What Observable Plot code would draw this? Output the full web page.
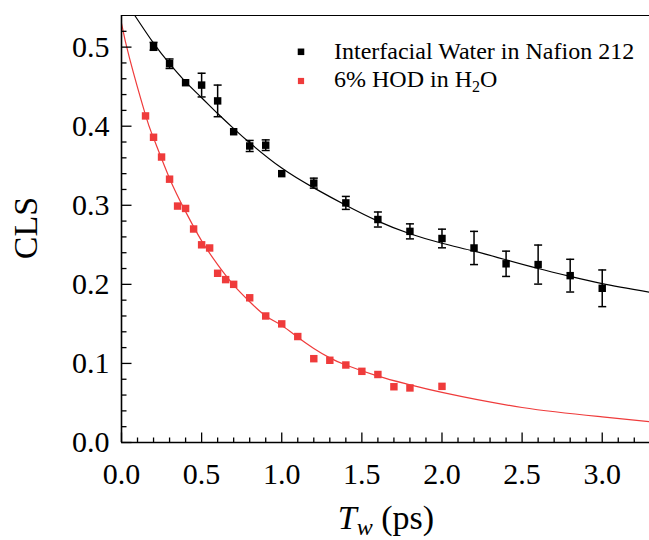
<!DOCTYPE html>
<html><head><meta charset="utf-8">
<script src="https://cdn.jsdelivr.net/npm/d3@7"></script>
<script src="https://cdn.jsdelivr.net/npm/@observablehq/plot@0.6"></script>
<style>
body{margin:0;background:#fff;} svg{display:block}
</style>
</head><body><div id="chart"></div>
<script>
// ---- data ----
const nafionTw  = [0.2,0.3,0.4,0.5,0.6,0.7,0.8,0.9,1.0,1.2,1.4,1.6,1.8,2.0,2.2,2.4,2.6,2.8,3.0];
const nafionCLS = [0.501,0.479,0.455,0.452,0.432,0.393,0.375,0.376,0.340,0.328,0.303,0.282,0.267,0.258,0.246,0.226,0.225,0.211,0.195];
const nafionErr = [0.005,0.006,0,0.015,0.020,0,0.007,0.0067,0,0.0063,0.0082,0.0095,0.0095,0.0118,0.021,0.016,0.0247,0.0207,0.0232];

const hodTw  = [0.15,0.2,0.25,0.3,0.35,0.4,0.45,0.5,0.55,0.6,0.65,0.7,0.8,0.9,1.0,1.1,1.2,1.3,1.4,1.5,1.6,1.7,1.8,2.0];
const hodCLS = [0.413,0.386,0.361,0.333,0.299,0.296,0.270,0.250,0.246,0.214,0.206,0.200,0.183,0.160,0.150,0.134,0.106,0.104,0.098,0.090,0.086,0.0705,0.069,0.071];

const nafionFitTw  = [0.083,0.2,0.3,0.4,0.5,0.6,0.7,0.8,1.0,1.2,1.4,1.6,1.8,2.0,2.2,2.4,2.6,2.8,3.0,3.3];
const nafionFitCLS = [0.540,0.505,0.479,0.456,0.436,0.416,0.397,0.379,0.347,0.322,0.300,0.280,0.264,0.252,0.242,0.231,0.220,0.210,0.201,0.190];

const hodFitTw  = [0.0,0.05,0.15,0.2,0.3,0.4,0.5,0.6,0.7,0.8,0.9,1.0,1.1,1.2,1.3,1.4,1.6,1.8,2.0,2.5,3.0,3.3];
const hodFitCLS = [0.530,0.486,0.414,0.385,0.334,0.292,0.255,0.225,0.199,0.178,0.160,0.148,0.133,0.119,0.107,0.098,0.084,0.073,0.0633,0.0443,0.0325,0.0262];

const xMajor = [0.0,0.5,1.0,1.5,2.0,2.5,3.0];
const yMajor = [0.0,0.1,0.2,0.3,0.4,0.5];
const xMinor = d3.range(0, 33).map(i => i / 10).filter(v => Math.abs(v * 2 - Math.round(v * 2)) > 1e-6);
const yMinor = d3.range(0, 27).map(i => i / 50).filter(v => Math.abs(v * 10 - Math.round(v * 10)) > 1e-6);

const seriesNames = ["Interfacial Water in Nafion 212", "6% HOD in H", "2", "O"];
const xLabel = ["T", "w", " (ps)"];
const yLabel = "CLS";

// ---- build tables ----
const nafion = nafionTw.map((t, i) => ({t, v: nafionCLS[i], e: nafionErr[i]}));
const nafionBars = nafion.filter(d => d.e > 0);
const hod = hodTw.map((t, i) => ({t, v: hodCLS[i]}));
const nafionFit = nafionFitTw.map((t, i) => ({t, v: nafionFitCLS[i]}));
const hodFit = hodFitTw.map((t, i) => ({t, v: hodFitCLS[i]}));

const RED = "#ef3b3b";
const FONT = "'Liberation Serif', 'Times New Roman', serif";

const tickUp = {draw(ctx, size) { const l = Math.sqrt(size / Math.PI); ctx.moveTo(0, 0); ctx.lineTo(0, -l); }};
const tickRight = {draw(ctx, size) { const l = Math.sqrt(size / Math.PI); ctx.moveTo(0, 0); ctx.lineTo(l, 0); }};
const cap = {draw(ctx, size) { const l = Math.sqrt(size / Math.PI); ctx.moveTo(-l, 0); ctx.lineTo(l, 0); }};

const yMax = 0.54;

const chart = Plot.plot({
  width: 649,
  height: 540,
  marginLeft: 121,
  marginRight: 0,
  marginTop: 15,
  marginBottom: 98,
  style: {background: "white", color: "black", overflow: "visible"},
  x: {domain: [0, 3.295]},
  y: {domain: [0, yMax]},
  marks: [
    // fit curves
    Plot.line(hodFit, {x: "t", y: "v", curve: "natural", stroke: RED, strokeWidth: 1.2, clip: true}),
    Plot.line(nafionFit, {x: "t", y: "v", curve: "natural", stroke: "black", strokeWidth: 1.2, clip: true}),
    // error bars
    Plot.ruleX(nafionBars, {x: "t", y1: d => d.v - d.e, y2: d => d.v + d.e, stroke: "black", strokeWidth: 1.5}),
    Plot.dot(nafionBars, {x: "t", y: d => d.v + d.e, symbol: cap, r: 4, fill: "none", stroke: "black", strokeWidth: 1.5}),
    Plot.dot(nafionBars, {x: "t", y: d => d.v - d.e, symbol: cap, r: 4, fill: "none", stroke: "black", strokeWidth: 1.5}),
    // points
    Plot.dot(hod, {x: "t", y: "v", symbol: "square", r: 4.2, fill: RED}),
    Plot.dot(nafion, {x: "t", y: "v", symbol: "square", r: 4.2, fill: "black"}),
    // frame lines
    Plot.ruleY([0], {stroke: "black", strokeWidth: 1.6}),
    Plot.ruleX([0], {stroke: "black", strokeWidth: 1.6}),
    Plot.ruleY([yMax], {stroke: "black", strokeWidth: 1.2}),
    // inward ticks
    Plot.dot(xMajor, {x: d => d, frameAnchor: "bottom", symbol: tickUp, r: 10, fill: "none", stroke: "black", strokeWidth: 1.3}),
    Plot.dot(xMinor, {x: d => d, frameAnchor: "bottom", symbol: tickUp, r: 5, fill: "none", stroke: "black", strokeWidth: 1.3}),
    Plot.dot(yMajor, {y: d => d, frameAnchor: "left", symbol: tickRight, r: 10, fill: "none", stroke: "black", strokeWidth: 1.3}),
    Plot.dot(yMinor, {y: d => d, frameAnchor: "left", symbol: tickRight, r: 5, fill: "none", stroke: "black", strokeWidth: 1.3}),
    // tick labels
    Plot.axisX({ticks: xMajor, tickSize: 0, tickPadding: 20, tickFormat: d3.format(".1f"), label: null, fontSize: 30}),
    Plot.axisY({ticks: yMajor, tickSize: 0, tickPadding: 12, tickFormat: d3.format(".1f"), label: null, fontSize: 30}),
    // legend markers
    Plot.dot([seriesNames[0]], {frameAnchor: "top-left", dx: 179.5, dy: 36.3, symbol: "square", r: 3.7, fill: "black"}),
    Plot.dot([seriesNames[1]], {frameAnchor: "top-left", dx: 179.5, dy: 65.5, symbol: "square", r: 3.5, fill: RED})
  ]
});

const svg = d3.select(chart);
svg.attr("font-family", FONT).style("font-family", FONT);
svg.selectAll("g").style("font-family", FONT).style("font-variant", "normal");
svg.selectAll("text").style("font-family", FONT).style("font-variant", "normal").style("font-size", "30px");

// legend text
svg.append("text").attr("x", 334).attr("y", 59.3).attr("text-anchor", "start")
  .style("font-family", FONT).style("font-size", "24px").attr("fill", "black")
  .text(seriesNames[0]);
const t2 = svg.append("text").attr("x", 334).attr("y", 86.7).attr("text-anchor", "start")
  .style("font-family", FONT).style("font-size", "24px").attr("fill", "black");
t2.append("tspan").text(seriesNames[1]);
t2.append("tspan").style("font-size", "16px").attr("dy", 5).text(seriesNames[2]);
t2.append("tspan").attr("dy", -5).text(seriesNames[3]);

// x label
const xl = svg.append("text").attr("x", 386).attr("y", 529).attr("text-anchor", "middle")
  .style("font-family", FONT).style("font-size", "34px").attr("fill", "black");
xl.append("tspan").style("font-style", "italic").text(xLabel[0]);
xl.append("tspan").style("font-style", "italic").style("font-size", "24px").attr("dy", 6).text(xLabel[1]);
xl.append("tspan").attr("dy", -6).text(xLabel[2]);

// y label
svg.append("text").attr("transform", "translate(36.5,228) rotate(-90)").attr("text-anchor", "middle")
  .style("font-family", FONT).style("font-size", "34px").attr("fill", "black").text(yLabel);

document.getElementById("chart").appendChild(chart);
</script>
</body></html>
